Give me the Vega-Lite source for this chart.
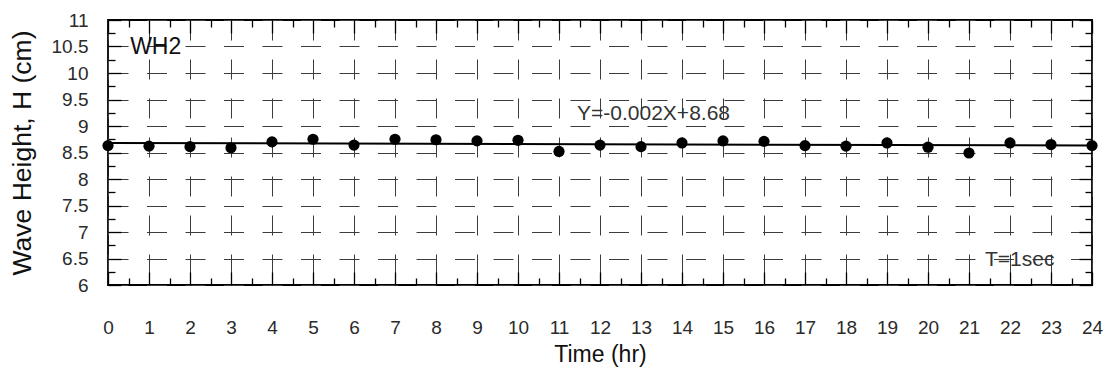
{
  "$schema": "https://vega.github.io/schema/vega-lite/v6.json",
  "width": 984,
  "height": 265,
  "autosize": {"type": "none"},
  "padding": {"left": 108, "top": 20, "right": 24, "bottom": 87},
  "background": "white",
  "config": {
    "view": {"stroke": "#000", "strokeWidth": 1.8},
    "font": "Liberation Sans",
    "axis": {"labelFont": "Liberation Sans", "titleFont": "Liberation Sans"}
  },
  "datasets": {
    "wh2": [
      {"t": 0, "h": 8.63}, {"t": 1, "h": 8.62}, {"t": 2, "h": 8.61}, {"t": 3, "h": 8.59},
      {"t": 4, "h": 8.70}, {"t": 5, "h": 8.75}, {"t": 6, "h": 8.64}, {"t": 7, "h": 8.75},
      {"t": 8, "h": 8.74}, {"t": 9, "h": 8.72}, {"t": 10, "h": 8.73}, {"t": 11, "h": 8.52},
      {"t": 12, "h": 8.64}, {"t": 13, "h": 8.61}, {"t": 14, "h": 8.68}, {"t": 15, "h": 8.72},
      {"t": 16, "h": 8.71}, {"t": 17, "h": 8.63}, {"t": 18, "h": 8.62}, {"t": 19, "h": 8.68},
      {"t": 20, "h": 8.60}, {"t": 21, "h": 8.49}, {"t": 22, "h": 8.68}, {"t": 23, "h": 8.65},
      {"t": 24, "h": 8.63}
    ],
    "fit": [{"t": 0, "h": 8.68}, {"t": 24, "h": 8.632}],
    "notes": [
      {"note": "Y=-0.002X+8.68", "t": 11.44, "h": 9.23},
      {"note": "T=1sec", "t": 21.39, "h": 6.47}
    ],
    "tag": [{"note": "WH2", "t": 0.54, "h": 10.5}]
  },
  "resolve": {"axis": {"x": "independent", "y": "independent"}},
  "layer": [
    {
      "data": {"name": "wh2"},
      "mark": {"type": "circle", "size": 125, "color": "#000", "opacity": 1},
      "encoding": {
        "x": {
          "field": "t", "type": "quantitative",
          "scale": {"domain": [0, 24], "nice": false, "zero": false},
          "axis": {
            "orient": "bottom", "title": "Time (hr)",
            "values": [0,1,2,3,4,5,6,7,8,9,10,11,12,13,14,15,16,17,18,19,20,21,22,23,24],
            "format": "~g", "ticks": false, "domain": false,
            "labelPadding": 33, "labelFontSize": 19, "labelColor": "#2a2a2a",
            "labelFlush": false, "labelOverlap": false,
            "titleFontSize": 23, "titleFontWeight": "normal", "titleColor": "#111", "titlePadding": 6,
            "grid": true, "gridColor": "#3c3c3c", "gridDash": [20, 19], "gridWidth": 1
          }
        },
        "y": {
          "field": "h", "type": "quantitative",
          "scale": {"domain": [6, 11], "nice": false, "zero": false},
          "axis": {
            "orient": "left", "title": "Wave Height, H (cm)",
            "values": [6, 6.5, 7, 7.5, 8, 8.5, 9, 9.5, 10, 10.5, 11],
            "format": "~g", "ticks": false, "domain": false,
            "labelPadding": 20, "labelFontSize": 19, "labelColor": "#2a2a2a",
            "labelFlush": false, "labelOverlap": false,
            "titleFontSize": 26.5, "titleFontWeight": "normal", "titleColor": "#111", "titlePadding": 15,
            "grid": true, "gridColor": "#3c3c3c", "gridDash": [20, 18.5], "gridWidth": 1
          }
        }
      }
    },
    {
      "data": {"name": "fit"},
      "mark": {"type": "line", "color": "#000", "strokeWidth": 2},
      "encoding": {
        "x": {
          "field": "t", "type": "quantitative",
          "axis": {
            "orient": "bottom", "title": null, "labels": false, "domain": false, "grid": false,
            "values": [0,0.5,1,1.5,2,2.5,3,3.5,4,4.5,5,5.5,6,6.5,7,7.5,8,8.5,9,9.5,10,10.5,11,11.5,12,12.5,13,13.5,14,14.5,15,15.5,16,16.5,17,17.5,18,18.5,19,19.5,20,20.5,21,21.5,22,22.5,23,23.5,24],
            "tickColor": "#000", "tickWidth": 1.3,
            "tickSize": {"condition": {"test": "datum.value % 1 === 0", "value": -13}, "value": -7}
          }
        },
        "y": {
          "field": "h", "type": "quantitative",
          "axis": {
            "orient": "left", "title": null, "labels": false, "domain": false, "grid": false,
            "values": [6,6.25,6.5,6.75,7,7.25,7.5,7.75,8,8.25,8.5,8.75,9,9.25,9.5,9.75,10,10.25,10.5,10.75,11],
            "tickColor": "#000", "tickWidth": 1.3,
            "tickSize": {"condition": {"test": "datum.value % 0.5 === 0", "value": -13}, "value": -7}
          }
        }
      }
    },
    {
      "data": {"name": "notes"},
      "mark": {"type": "text", "align": "left", "baseline": "middle", "fontSize": 21, "color": "#333", "font": "Liberation Sans"},
      "encoding": {
        "text": {"field": "note"},
        "x": {
          "field": "t", "type": "quantitative",
          "axis": {
            "orient": "top", "title": null, "labels": false, "domain": false, "grid": false,
            "values": [0,0.5,1,1.5,2,2.5,3,3.5,4,4.5,5,5.5,6,6.5,7,7.5,8,8.5,9,9.5,10,10.5,11,11.5,12,12.5,13,13.5,14,14.5,15,15.5,16,16.5,17,17.5,18,18.5,19,19.5,20,20.5,21,21.5,22,22.5,23,23.5,24],
            "tickColor": "#000", "tickWidth": 1.3,
            "tickSize": {"condition": {"test": "datum.value % 1 === 0", "value": -13}, "value": -7}
          }
        },
        "y": {
          "field": "h", "type": "quantitative",
          "axis": {
            "orient": "right", "title": null, "labels": false, "domain": false, "grid": false,
            "values": [6,6.25,6.5,6.75,7,7.25,7.5,7.75,8,8.25,8.5,8.75,9,9.25,9.5,9.75,10,10.25,10.5,10.75,11],
            "tickColor": "#000", "tickWidth": 1.3,
            "tickSize": {"condition": {"test": "datum.value % 0.5 === 0", "value": -13}, "value": -7}
          }
        }
      }
    },
    {
      "data": {"name": "tag"},
      "mark": {"type": "text", "align": "left", "baseline": "middle", "fontSize": 23, "color": "#111", "font": "Liberation Sans"},
      "encoding": {
        "text": {"field": "note"},
        "x": {"field": "t", "type": "quantitative", "axis": null},
        "y": {"field": "h", "type": "quantitative", "axis": null}
      }
    }
  ]
}
